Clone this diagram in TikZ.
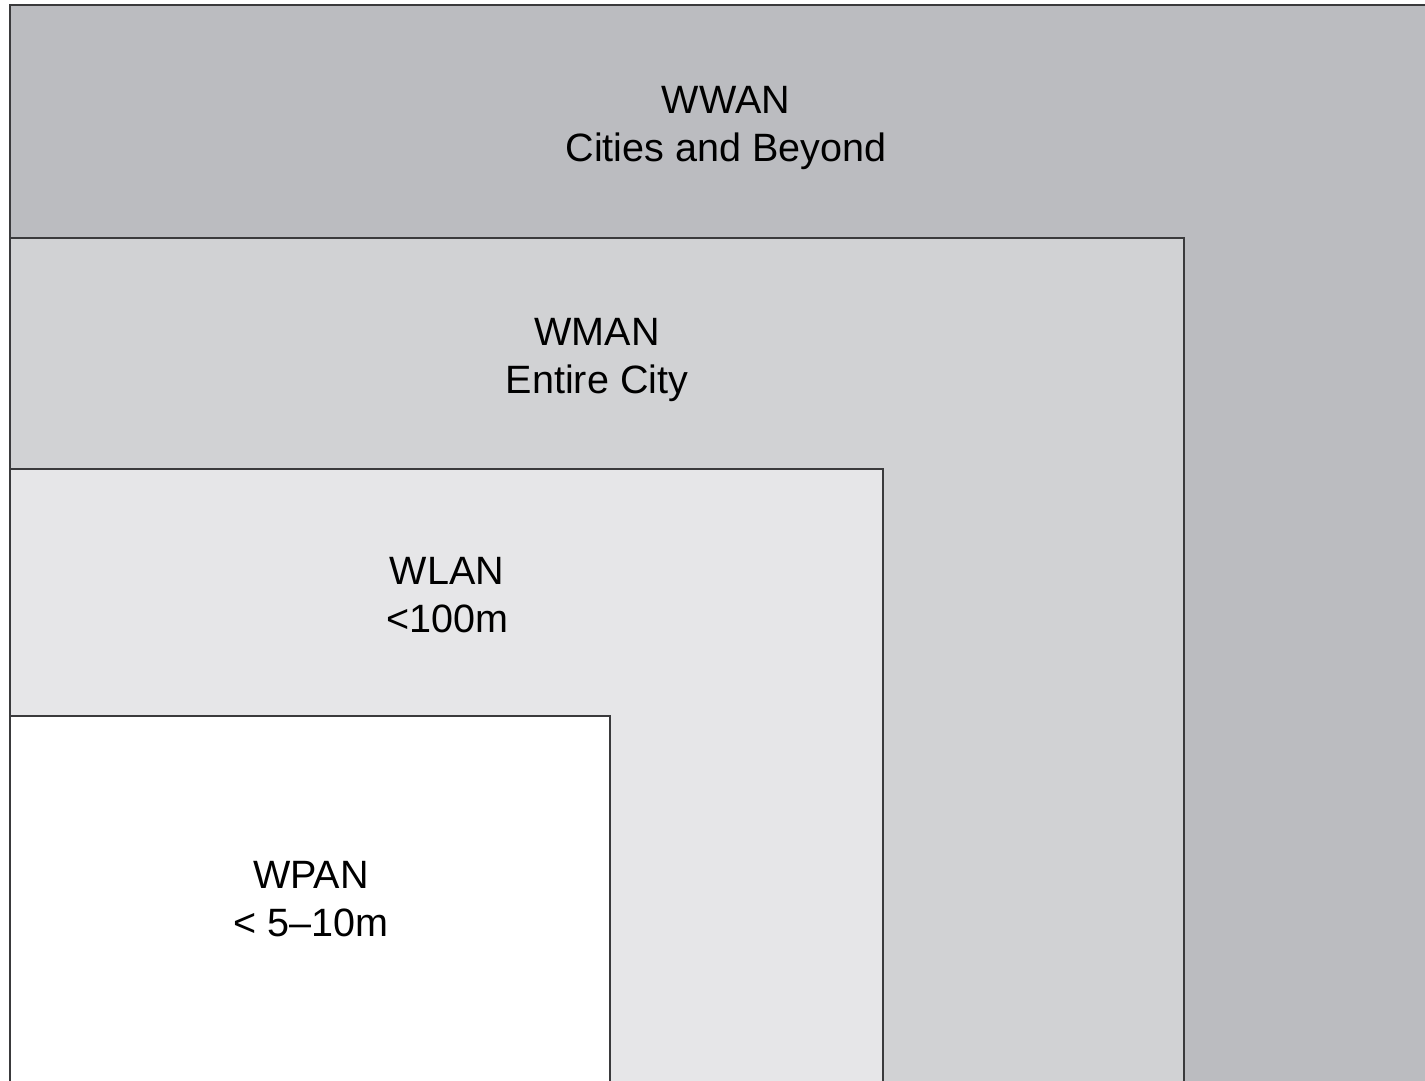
\documentclass[tikz,border=0pt]{standalone}
\usepackage{fontspec}
\setmainfont{Liberation Sans}
\definecolor{wwangray}{HTML}{BBBCC0}
\definecolor{wmangray}{HTML}{D1D2D4}
\definecolor{wlangray}{HTML}{E6E6E8}
\definecolor{edgegray}{HTML}{3A3A3C}
\begin{document}
\begin{tikzpicture}[x=0.02cm, y=-0.02cm,
    zone/.style={draw=edgegray, line width=1.1pt},
    label/.style={align=center, font=\fontsize{22.5}{27}\selectfont, text=black}]

    % === Rahmen ===
    \useasboundingbox (0,0) rectangle (1425,1080);
    \clip (0,0) rectangle (1425,1080);

    % === Bereiche (von aussen nach innen) ===
    \draw[zone, fill=wwangray] (10,5)   rectangle (1440,1100);
    \draw[zone, fill=wmangray] (10,238) rectangle (1184,1100);
    \draw[zone, fill=wlangray] (10,469) rectangle (883,1100);
    \draw[zone, fill=white]    (10,716) rectangle (610,1100);

    % === Beschriftungen ===
    \node[label] (wwan) at (726,128) {WWAN\\Cities and Beyond};
    \node[label] (wman) at (597,360) {WMAN\\Entire City};
    \node[label] (wlan) at (447,595) {WLAN\\<100m};
    \node[label] (wpan) at (311,899) {WPAN\\< 5--10m};

\end{tikzpicture}
\end{document}
